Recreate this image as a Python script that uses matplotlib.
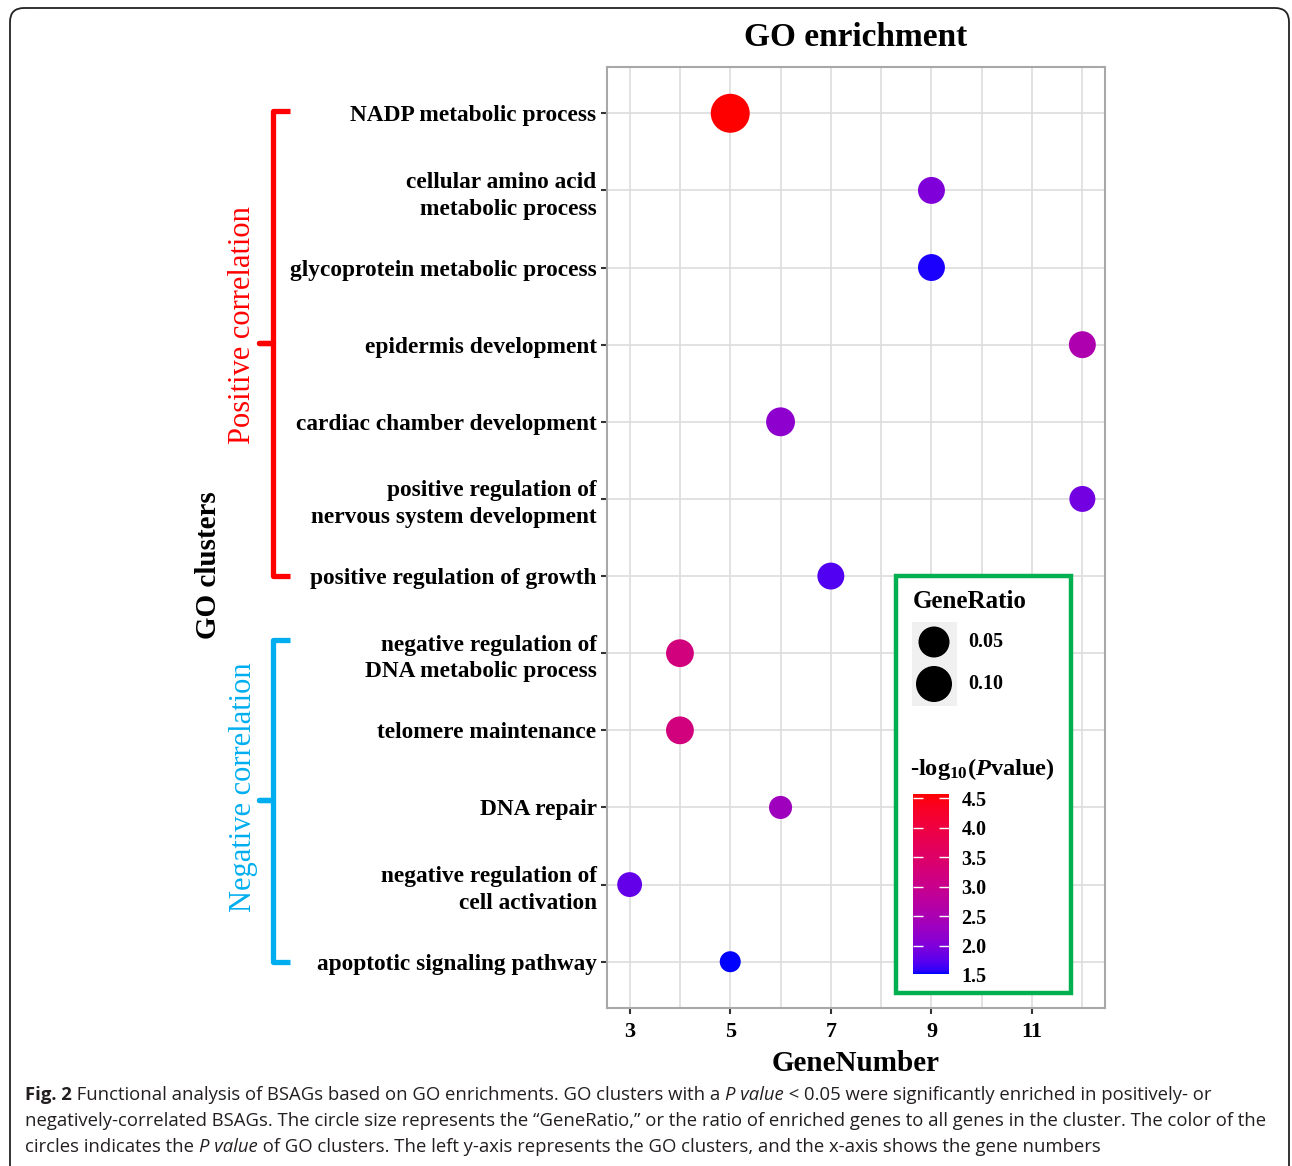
import numpy as np
import matplotlib
matplotlib.use('Agg')
import matplotlib.pyplot as plt
from matplotlib.colors import ListedColormap, Normalize
from matplotlib.patches import FancyBboxPatch, Rectangle
from matplotlib.lines import Line2D

# ---- data ----
go_terms = ['NADP metabolic process',
            'cellular amino acid\nmetabolic process',
            'glycoprotein metabolic process',
            'epidermis development',
            'cardiac chamber development',
            'positive regulation of\nnervous system development',
            'positive regulation of growth',
            'negative regulation of\nDNA metabolic process',
            'telomere maintenance',
            'DNA repair',
            'negative regulation of\ncell activation',
            'apoptotic signaling pathway']
gene_number = [5, 9, 9, 12, 6, 12, 7, 4, 4, 6, 3, 5]
gene_ratio = [0.138, 0.022, 0.022, 0.022, 0.034, 0.017, 0.022, 0.027, 0.027, 0.006, 0.012, 0.0015]
neglog_p = [4.57, 2.0, 1.55, 2.55, 2.15, 1.9, 1.7, 3.2, 3.2, 2.35, 1.8, 1.52]

x_ticks = [3, 5, 7, 9, 11]
cbar_ticks = [1.5, 2.0, 2.5, 3.0, 3.5, 4.0, 4.5]
ratio_keys = [0.05, 0.10]

W, H = 1292, 1166
DPI = 100
SERIF = 'Liberation Serif'


def srgb_to_lab(c):
    c = np.asarray(c, float)
    lin = np.where(c <= 0.04045, c/12.92, ((c+0.055)/1.055)**2.4)
    M = np.array([[0.4124, 0.3576, 0.1805],
                  [0.2126, 0.7152, 0.0722],
                  [0.0193, 0.1192, 0.9505]])
    xyz = M @ lin / np.array([0.95047, 1.0, 1.08883])
    f = np.where(xyz > 0.008856, np.cbrt(xyz), 7.787*xyz + 16/116)
    return np.array([116*f[1]-16, 500*(f[0]-f[1]), 200*(f[1]-f[2])])


def lab_to_srgb(lab):
    L, a, b = lab
    fy_ = (L+16)/116
    f = np.array([fy_ + a/500, fy_, fy_ - b/200])
    xyz = np.where(f**3 > 0.008856, f**3, (f-16/116)/7.787) * np.array([0.95047, 1.0, 1.08883])
    Minv = np.array([[3.2406, -1.5372, -0.4986],
                     [-0.9689, 1.8758, 0.0415],
                     [0.0557, -0.2040, 1.0570]])
    lin = np.clip(Minv @ xyz, 0, 1)
    c = np.where(lin <= 0.0031308, 12.92*lin, 1.055*lin**(1/2.4)-0.055)
    return np.clip(c, 0, 1)


# blue -> red gradient interpolated in Lab, like ggplot's scale_colour_gradient
lab_lo = srgb_to_lab([0, 0, 1])
lab_hi = srgb_to_lab([1, 0, 0])
cmap = ListedColormap([lab_to_srgb(lab_lo + t*(lab_hi-lab_lo)) for t in np.linspace(0, 1, 256)])
norm = Normalize(vmin=min(neglog_p), vmax=max(neglog_p))


def ratio_to_size(r):
    # diameter in px, area-type scale
    d = 31 + 54*(np.sqrt(np.asarray(r)) - np.sqrt(0.05))
    return (d*72/DPI)**2


def fx(x):
    return x/W


def fy(y):
    return 1 - y/H


plt.rcParams['mathtext.fontset'] = 'custom'
plt.rcParams['mathtext.rm'] = 'Liberation Serif:bold'
plt.rcParams['mathtext.it'] = 'Liberation Serif:bold:italic'
plt.rcParams['mathtext.bf'] = 'Liberation Serif:bold'

fig = plt.figure(figsize=(W/DPI, H/DPI), dpi=DPI)

ax = fig.add_axes([fx(607), fy(1008), fx(1105)-fx(607), fy(67)-fy(1008)])
ypos = np.arange(len(go_terms))
sc = ax.scatter(gene_number, ypos, s=ratio_to_size(gene_ratio), c=neglog_p, cmap=cmap, norm=norm,
                linewidths=0, zorder=3)
ax.set_xlim(2.55, 12.45)
ax.set_ylim(len(go_terms)-1+0.6, -0.6)
ax.set_xticks(x_ticks)
ax.set_xticks([4, 6, 8, 10, 12], minor=True)
ax.set_yticks(ypos)
ax.set_yticklabels(go_terms, fontsize=16.8, fontweight='bold', family=SERIF, linespacing=1.35)
ax.set_xticklabels([str(v) for v in x_ticks], fontsize=16, fontweight='bold', family=SERIF)
ax.grid(True, which='both', color='#dddddd', linewidth=1.2, zorder=0)
ax.set_axisbelow(True)
for sp in ax.spines.values():
    sp.set_color('#a8a8a8')
    sp.set_linewidth(1.5)
ax.tick_params(which='major', length=4, width=1.5, color='#333333', pad=3.5)
ax.tick_params(axis='x', which='major', pad=6)
ax.tick_params(axis='x', which='minor', length=0)
ax.set_xlabel('GeneNumber', fontsize=21, fontweight='bold', family=SERIF, labelpad=6)
ax.set_title('GO enrichment', fontsize=24, fontweight='bold', family=SERIF, pad=15)

# overlay in pixel coords for brackets and legend
ov = fig.add_axes([0, 0, 1, 1], zorder=5)
ov.set_xlim(0, W)
ov.set_ylim(H, 0)
ov.axis('off')
ov.patch.set_alpha(0)


def bracket(top, bot, mid, color):
    xs = [290, 273, 273, 259, 273, 273, 290]
    ys = [top, top, mid, mid, mid, bot, bot]
    ov.add_line(Line2D(xs, ys, color=color, linewidth=3.8, solid_joinstyle='round',
                       solid_capstyle='butt'))


bracket(111, 576, 343, '#ff0000')
bracket(640, 962, 800, '#00aeef')

fig.text(fx(243), fy(325), 'Positive correlation', rotation=90, color='#ff0000', fontsize=22,
         family=SERIF, ha='center', va='center')
fig.text(fx(243), fy(787), 'Negative correlation', rotation=90, color='#00aeef', fontsize=22,
         family=SERIF, ha='center', va='center')
fig.text(fx(208), fy(565), 'GO clusters', rotation=90, color='black', fontsize=21,
         fontweight='bold', family=SERIF, ha='center', va='center')

# legend box
ov.add_patch(Rectangle((896, 576), 175, 417, facecolor='white', edgecolor='#00b050', linewidth=3.2))
ov.text(913, 601, 'GeneRatio', fontsize=18, fontweight='bold', family=SERIF, va='center', ha='left')
ov.add_patch(Rectangle((912, 622), 45, 84, facecolor='#f0f0f0', edgecolor='none'))
key_y = [642, 684]
ov.scatter([934, 934], key_y, s=ratio_to_size(ratio_keys), color='black', linewidths=0, zorder=6)
for yk, rk in zip(key_y, ratio_keys):
    ov.text(968, yk, '%.2f' % rk, fontsize=14.5, fontweight='bold', family=SERIF, va='center', ha='left')
ov.text(910, 769, r'-log$_{10}$($P$value)', fontsize=17.6, fontweight='bold', family=SERIF,
        va='center', ha='left')

cax = fig.add_axes([fx(913), fy(975), fx(949)-fx(913), fy(794)-fy(975)], zorder=6)
cb = fig.colorbar(sc, cax=cax)
cb.outline.set_visible(False)
cb.set_ticks(cbar_ticks)
cb.set_ticklabels(['%.1f' % t for t in cbar_ticks])
cax.tick_params(direction='in', color='white', length=7, width=1, left=True, right=True, pad=9)
for t in cax.get_yticklabels():
    t.set_fontsize(14.5)
    t.set_fontweight('bold')
    t.set_family(SERIF)

# outer rounded frame
ov.add_patch(FancyBboxPatch((10, 8), 1279, 1200, boxstyle='round,pad=0,rounding_size=14',
                            facecolor='none', edgecolor='#222222', linewidth=1.3, clip_on=False))

# caption
renderer = fig.canvas.get_renderer()
cap_lines = [
    [('Fig. 2', 'bold', 'normal'),
     (' Functional analysis of BSAGs based on GO enrichments. GO clusters with a ', 'normal', 'normal'),
     ('P value', 'normal', 'italic'),
     (' < 0.05 were significantly enriched in positively- or', 'normal', 'normal')],
    [('negatively-correlated BSAGs. The circle size represents the \u201cGeneRatio,\u201d or the ratio of enriched '
      'genes to all genes in the cluster. The color of the', 'normal', 'normal')],
    [('circles indicates the ', 'normal', 'normal'),
     ('P value', 'normal', 'italic'),
     (' of GO clusters. The left y-axis represents the GO clusters, and the x-axis shows the gene numbers',
      'normal', 'normal')],
]
cap_base = [1100, 1126, 1152]
for parts, yb in zip(cap_lines, cap_base):
    x0 = 25
    for s, wt, st in parts:
        t = ov.text(x0, yb, s, fontsize=13.3, fontweight=wt, style=st, family='Open Sans',
                    color='#231f20', va='baseline', ha='left')
        bb = t.get_window_extent(renderer)
        x0 += bb.width

fig.savefig('out.png', dpi=DPI)
